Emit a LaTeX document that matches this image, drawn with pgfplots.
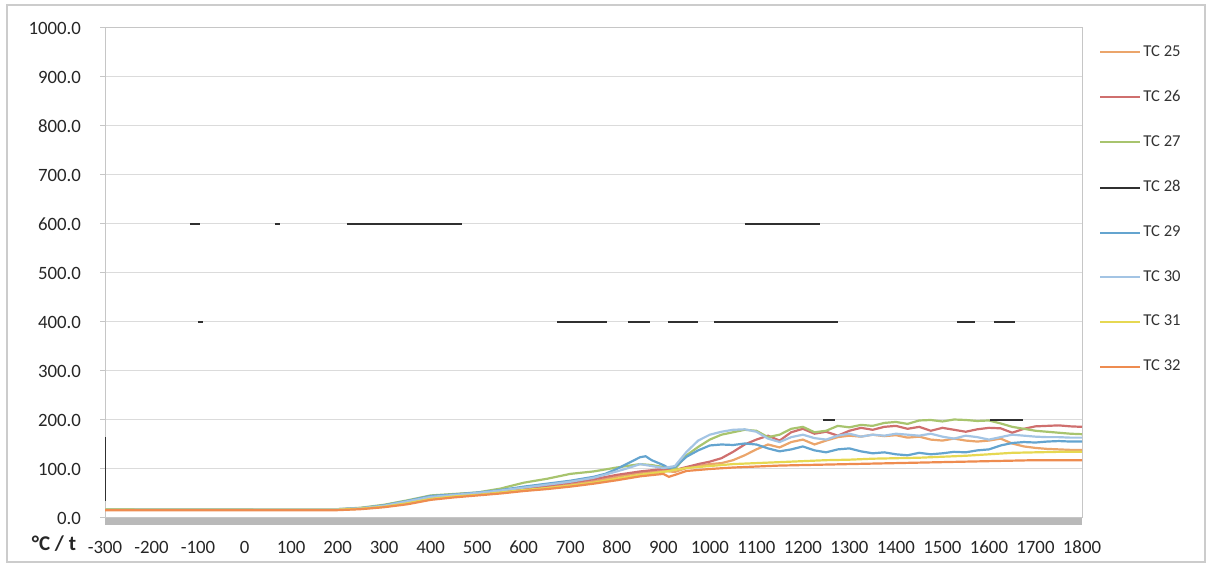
\documentclass[border=0pt]{standalone}
\usepackage{fontspec}
\setmainfont{Carlito}
\usepackage{pgfplots}
\pgfplotsset{compat=1.18}
\definecolor{c25}{HTML}{EBA56B}
\definecolor{c26}{HTML}{CF6F6E}
\definecolor{c27}{HTML}{A8C46E}
\definecolor{c28}{HTML}{303030}
\definecolor{c29}{HTML}{64A4CF}
\definecolor{c30}{HTML}{A3C4E4}
\definecolor{c31}{HTML}{E6D852}
\definecolor{c32}{HTML}{EE8C50}
\begin{document}
\begin{tikzpicture}
\path[use as bounding box] (0,0) rectangle (606.5pt,282.5pt);
\draw[gray!40, line width=0.6pt] (3.5pt,1.5pt) rectangle (602.5pt,280pt);
\begin{axis}[
  name=ax, scale only axis, width=488.5pt, height=245pt,
  at={(52.5pt,23.5pt)}, anchor=south west,
  xmin=-300, xmax=1800, ymin=0, ymax=1000,
  xtick={-300,-200,...,1800}, ytick={0,100,...,1000},
  unbounded coords=jump,
  ymajorgrids, grid style={gray!28, line width=0.5pt},
  axis line style={gray!45, line width=0.5pt},
  xtick style={draw=none}, ytick style={gray!45, line width=0.5pt},
  major tick length=2.5pt, tick align=outside, ytick pos=left,
  /pgf/number format/assume math mode=true,
  /pgf/number format/1000 sep={},
  yticklabel style={/pgf/number format/fixed, /pgf/number format/fixed zerofill, /pgf/number format/precision=1, font=\fontsize{9.4}{11}\selectfont, text=black!85, xshift=-6pt},
  xticklabel style={font=\fontsize{9.4}{11}\selectfont, text=black!85, yshift=-5.5pt},
  legend style={draw=none, fill=none, font=\fontsize{8.3}{10}\selectfont, text=black!80,
    at={(axis description cs:1.0174,0.969)}, anchor=north west, row sep=13.5pt,
    inner sep=0pt, nodes={inner sep=1pt}},
  legend cell align=left,
  legend image code/.code={\draw[#1, line width=1pt] (0pt,0pt) -- (20pt,0pt);},
]
\addplot[c25, line width=1.1pt] table {
x y
-300 17
200 17
250 19
300 24
350 32
400 42
450 47
500 50
550 54
600 58
650 63
700 68
750 75
800 84
850 92
900 96
925 94
950 102
975 106
1000 110
1025 112
1050 118
1075 128
1100 140
1125 150
1150 144
1175 155
1200 160
1225 150
1250 158
1275 165
1300 168
1325 166
1350 170
1375 167
1400 169
1425 164
1450 166
1475 160
1500 158
1525 162
1550 158
1575 156
1600 158
1625 162
1650 152
1675 146
1700 143
1725 141
1750 140
1775 139
1800 139
};
\addlegendentry{TC 25}
\addplot[c26, line width=1.1pt] table {
x y
-300 17
200 17
250 20
300 25
350 34
400 44
450 48
500 51
550 55
600 60
650 66
700 72
750 79
800 88
850 95
900 100
925 98
950 104
975 110
1000 115
1025 122
1050 135
1075 150
1100 160
1125 168
1150 158
1175 175
1200 182
1225 172
1250 176
1275 168
1300 178
1325 184
1350 180
1375 186
1400 188
1425 182
1450 186
1475 178
1500 184
1525 180
1550 176
1575 181
1600 184
1625 183
1650 174
1675 182
1700 187
1725 188
1750 189
1775 187
1800 186
};
\addlegendentry{TC 26}
\addplot[c27, line width=1.1pt] table {
x y
-300 18
200 18
250 21
300 27
350 36
400 46
450 49
500 52
550 60
600 72
650 80
700 90
750 95
800 103
850 110
875 108
900 104
925 100
950 128
975 145
1000 160
1025 170
1050 175
1075 180
1100 178
1125 165
1150 170
1175 182
1200 186
1225 175
1250 178
1275 188
1300 185
1325 190
1350 188
1375 194
1400 196
1425 192
1450 199
1475 200
1500 197
1525 201
1550 200
1575 198
1600 199
1625 193
1650 186
1675 182
1700 178
1725 176
1750 174
1775 172
1800 171
};
\addlegendentry{TC 27}
\addplot[c28, line width=0.55pt] coordinates {
(-300,165) (-300,35) (-300,nan)
(-117,600) (-96,600) (-96,nan)
(65,600) (76,600) (76,nan)
(220,600) (467,600) (467,nan)
(1075,600) (1237,600) (1237,nan)
(-100,400) (-89,400) (-89,nan)
(672,400) (779,400) (779,nan)
(824,400) (871,400) (871,nan)
(910,400) (975,400) (975,nan)
(1009,400) (1275,400) (1275,nan)
(1531,400) (1570,400) (1570,nan)
(1611,400) (1656,400) (1656,nan)
(1243,200) (1269,200) (1269,nan)
(1602,200) (1673,200)
};
\addlegendentry{TC 28}
\addplot[c29, line width=1.1pt] table {
x y
-300 17
200 18
250 20
300 26
350 35
400 45
450 48
500 52
550 57
600 64
650 70
700 76
750 84
775 90
800 100
825 112
850 124
862 126
875 118
900 108
912 102
925 104
950 125
975 138
1000 148
1025 150
1050 149
1075 152
1100 150
1125 142
1150 136
1175 140
1200 146
1225 138
1250 134
1275 140
1300 142
1325 136
1350 132
1375 134
1400 130
1425 128
1450 133
1475 130
1500 132
1525 135
1550 134
1575 138
1600 140
1625 148
1650 153
1675 155
1700 154
1725 156
1750 157
1775 156
1800 156
};
\addlegendentry{TC 29}
\addplot[c30, line width=1.1pt] table {
x y
-300 17
200 18
250 20
300 25
350 34
400 43
450 47
500 51
550 56
600 62
650 68
700 74
750 82
800 95
825 102
850 110
875 106
900 102
925 106
950 135
975 158
1000 170
1025 176
1050 180
1075 181
1100 176
1125 162
1150 155
1175 165
1200 170
1225 163
1250 160
1275 168
1300 172
1325 166
1350 170
1375 168
1400 172
1425 170
1450 168
1475 172
1500 166
1525 162
1550 168
1575 165
1600 160
1625 165
1650 170
1675 168
1700 166
1725 165
1750 165
1775 164
1800 164
};
\addlegendentry{TC 30}
\addplot[c31, line width=1.1pt] table {
x y
-300 17
200 17
250 19
300 23
350 30
400 39
450 44
500 47
550 52
600 57
650 61
700 66
750 72
800 80
850 88
900 94
950 102
1000 106
1050 110
1100 112
1150 114
1200 116
1250 118
1300 119
1350 121
1400 122
1450 123
1500 125
1550 127
1600 130
1650 133
1700 134
1750 135
1800 135
};
\addlegendentry{TC 31}
\addplot[c32, line width=1.1pt] table {
x y
-300 16
200 16
250 18
300 22
350 28
400 37
450 42
500 46
550 50
600 55
650 59
700 64
750 70
800 77
850 85
900 90
912 84
925 88
950 96
1000 100
1050 103
1100 105
1150 107
1200 108
1250 109
1300 110
1350 111
1400 112
1450 113
1500 114
1550 115
1600 116
1650 117
1700 118
1750 118
1800 118
};
\addlegendentry{TC 32}
\end{axis}
\draw[gray!55, line width=3.5pt] ([yshift=-1.75pt]ax.south west) -- ([yshift=-1.75pt]ax.south east);
\node[font=\bfseries\fontsize{10.5}{12}\selectfont, text=black!85] at (27pt,10.5pt) {°C / t};
\end{tikzpicture}
\end{document}
